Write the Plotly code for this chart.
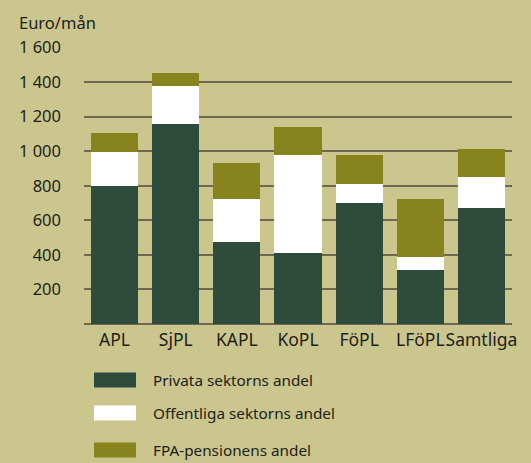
import plotly.graph_objects as go

categories = ["APL", "SjPL", "KAPL", "KoPL", "FöPL", "LFöPL", "Samtliga"]
privata = [800, 1155, 475, 410, 700, 310, 670]
offentliga = [198, 220, 250, 570, 110, 76, 180]
fpa = [110, 80, 205, 160, 170, 335, 165]
series_names = ["Privata sektorns andel", "Offentliga sektorns andel", "FPA-pensionens andel"]
tick_vals = [200, 400, 600, 800, 1000, 1200, 1400, 1600]
tick_text = ["200", "400", "600", "800", "1 000", "1 200", "1 400", "1 600"]
y_title = "Euro/mån"

colors = ["#2d4c3c", "#ffffff", "#878420"]
bg = "#cbc68d"
grid = "#6e6852"
font = "Noto Sans"

fig = go.Figure()
for name, vals, c in zip(series_names, [privata, offentliga, fpa], colors):
    fig.add_trace(go.Bar(x=categories, y=vals, name=name, marker=dict(color=c, line=dict(width=0)),
                         showlegend=False))

fig.update_layout(
    barmode="stack", bargap=0.23,
    width=531, height=463,
    margin=dict(l=84, r=19, t=47, b=139),
    paper_bgcolor=bg, plot_bgcolor=bg,
    font=dict(family=font, size=16, color="#1e1e1a"),
    xaxis=dict(range=[-0.5, 6.5], showgrid=False, showline=False, ticks="",
               tickfont=dict(size=17.5), ticklabelstandoff=3, tickangle=0, automargin=False),
    yaxis=dict(range=[0, 1603], tickvals=tick_vals, ticktext=tick_text, showgrid=True,
               gridcolor=grid, gridwidth=1.5, zeroline=True, zerolinecolor=grid, zerolinewidth=1.5,
               showline=False, ticks="", ticklabelstandoff=22, tickfont=dict(size=16.5),
               automargin=False),
)

fig.add_annotation(text=y_title, xref="paper", yref="paper", x=-0.157, y=1.09,
                   xanchor="left", yanchor="middle", showarrow=False, font=dict(size=16.5))

# legend drawn manually with wide swatches
rows_y = [380, 413, 450]  # pixel centers
plot_h = 277
for name, c, py in zip(series_names, colors, rows_y):
    y0 = (324 - (py - 7.5)) / plot_h
    y1 = (324 - (py + 7.5)) / plot_h
    x0 = (94 - 84) / 428
    x1 = (136 - 84) / 428
    fig.add_shape(type="rect", xref="paper", yref="paper", x0=x0, x1=x1, y0=y1, y1=y0,
                  fillcolor=c, line=dict(width=0))
    fig.add_annotation(text=name, xref="paper", yref="paper", x=(151 - 84) / 428,
                       y=(324 - py) / plot_h, xanchor="left", yanchor="middle",
                       showarrow=False, font=dict(size=15.3))

fig.write_html("out.html", config={"displayModeBar": False},
               post_script="document.body.style.margin='0';document.body.style.overflow='hidden';document.body.style.background='%s';" % bg)
